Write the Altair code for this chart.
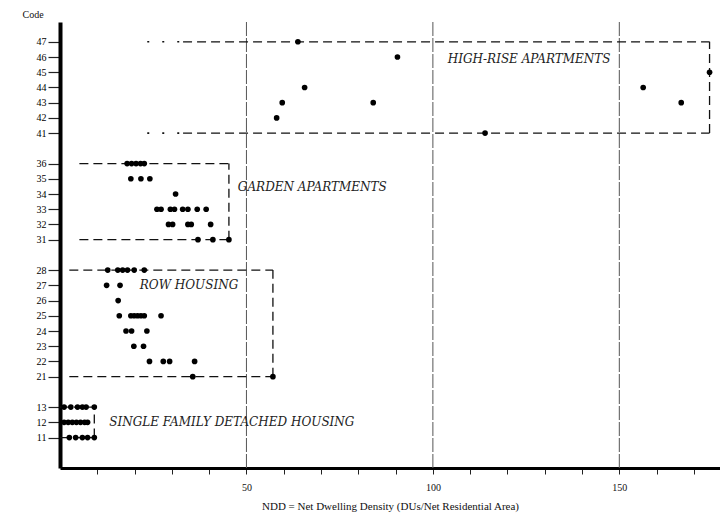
import altair as alt
import pandas as pd

# ---------------- data ----------------
# Points: (code, NDD values) per housing type
high_codes = [47, 46, 44, 43, 42, 43, 41, 44, 43, 45]
high_ndd = [63.8, 90.5, 65.6, 59.6, 58.1, 84.0, 114.0, 156.4, 166.6, 174.2]

garden_rows = {
    36: [18.0, 19.2, 20.4, 21.6, 22.6],
    35: [19.0, 21.7, 24.1],
    34: [31.0],
    33: [26.0, 27.1, 29.6, 30.7, 32.9, 34.3, 36.8, 39.2],
    32: [29.1, 30.2, 34.3, 35.2, 40.4],
    31: [37.0, 41.0, 45.3],
}
row_rows = {
    28: [12.8, 15.5, 16.8, 18.1, 19.9, 22.6],
    27: [12.5, 16.1],
    26: [15.6],
    25: [15.9, 19.0, 19.9, 20.8, 21.7, 22.6, 27.1],
    24: [17.7, 19.2, 23.3],
    23: [19.8, 22.4],
    22: [24.0, 27.7, 29.4, 36.1],
    21: [35.6, 57.1],
}
single_rows = {
    13: [1.1, 2.9, 4.7, 6.0, 7.0, 9.2],
    12: [1.1, 2.2, 3.3, 4.4, 5.5, 6.6, 7.4],
    11: [2.5, 4.2, 6.0, 7.4, 9.2],
}

# Group boxes: top code, bottom code, left NDD, right NDD
box_names = ["high", "garden", "row", "single"]
box_top = [47, 36, 28, 13]
box_bottom = [41, 31, 21, 11]
box_left = [33.0, 5.2, 2.5, 0.0]
box_right = [174.2, 45.3, 57.1, 9.2]
# dotted lead-in of the high-rise box lines
lead_left = 23.4
lead_right = 33.0

# group labels
label_text = ["HIGH-RISE APARTMENTS", "GARDEN APARTMENTS", "ROW HOUSING",
              "SINGLE FAMILY DETACHED HOUSING"]
label_ndd = [104.0, 47.7, 21.4, 13.2]
label_code_pos = [26.85, 18.46, 12.0, 3.0]

grid_x = [50, 100, 150]
code_ticks = [11, 12, 13, 21, 22, 23, 24, 25, 26, 27, 28,
              31, 32, 33, 34, 35, 36, 41, 42, 43, 44, 45, 46, 47]
x_ticks = list(range(10, 180, 10))

X_MAX = 177
Y_MAX = 29.3


def code_pos(c):
    if c < 20:
        return c - 9
    if c < 30:
        return c - 15
    if c < 40:
        return c - 16
    return c - 19


# ---------------- tables ----------------
pts = []
for c, v in zip(high_codes, high_ndd):
    pts.append({"ndd": v, "pos": code_pos(c)})
for rows in (garden_rows, row_rows, single_rows):
    for c, vals in rows.items():
        for v in vals:
            pts.append({"ndd": v, "pos": code_pos(c)})
pts = pd.DataFrame(pts)

segs = []
for n, t, b, l, r in zip(box_names, box_top, box_bottom, box_left, box_right):
    segs.append({"ndd": l, "ndd2": r, "pos": code_pos(t), "pos2": code_pos(t)})
    segs.append({"ndd": l, "ndd2": r, "pos": code_pos(b), "pos2": code_pos(b)})
    segs.append({"ndd": r, "ndd2": r, "pos": code_pos(b), "pos2": code_pos(t)})
segs = pd.DataFrame(segs)

leads = pd.DataFrame([
    {"ndd": lead_left, "ndd2": lead_right, "pos": code_pos(47), "pos2": code_pos(47)},
    {"ndd": lead_left, "ndd2": lead_right, "pos": code_pos(41), "pos2": code_pos(41)},
])

grid = pd.DataFrame({"ndd": grid_x, "pos": [0] * 3, "pos2": [Y_MAX] * 3})
labels = pd.DataFrame({"text": label_text, "ndd": label_ndd, "pos": label_code_pos})

SERIF = "Liberation Serif"

x_axis = alt.Axis(
    values=x_ticks,
    labelExpr="datum.value % 50 == 0 ? datum.label : ''",
    title="NDD = Net Dwelling Density (DUs/Net Residential Area)",
    titleFont=SERIF, titleFontSize=11, titleFontWeight="normal", titleColor="#111",
    titlePadding=8,
    labelFont=SERIF, labelFontSize=10, labelColor="#111", labelPadding=8,
    domainColor="#000", domainWidth=3, tickColor="#222", tickSize=6, tickWidth=1,
    grid=False,
)
y_axis = alt.Axis(
    values=[code_pos(c) for c in code_ticks],
    labelExpr=("datum.value < 5 ? datum.value + 9 : datum.value < 14 ? datum.value + 15 : "
               "datum.value < 21 ? datum.value + 16 : datum.value + 19"),
    title="Code", titleAngle=0, titleAlign="left", titleBaseline="middle",
    titleX=-38, titleY=-8, titleFont=SERIF, titleFontSize=10,
    titleFontWeight="normal", titleColor="#111",
    labelFont=SERIF, labelFontSize=10, labelColor="#000", labelPadding=2,
    domainColor="#000", domainWidth=4, tickColor="#222", tickSize=12, tickWidth=1.2,
    grid=False,
)
xs = alt.Scale(domain=[0, X_MAX], nice=False, zero=False)
ys = alt.Scale(domain=[0, Y_MAX], nice=False, zero=False)


def X(f="ndd"):
    return alt.X(f"{f}:Q", scale=xs, axis=x_axis)


def Y(f="pos"):
    return alt.Y(f"{f}:Q", scale=ys, axis=y_axis)


grid_layer = alt.Chart(grid).mark_rule(color="#555", strokeWidth=1, strokeDash=[14, 2]).encode(
    x=X(), y=Y(), y2="pos2:Q")

seg_layer = alt.Chart(segs).mark_rule(color="#111", strokeWidth=1.3, strokeDash=[9, 5]).encode(
    x=X(), x2="ndd2:Q", y=Y(), y2="pos2:Q")

lead_layer = alt.Chart(leads).mark_rule(color="#111", strokeWidth=1.6, strokeDash=[2, 13]).encode(
    x=X(), x2="ndd2:Q", y=Y(), y2="pos2:Q")

pt_layer = alt.Chart(pts).mark_circle(color="#000", size=32, opacity=1).encode(x=X(), y=Y())

txt_layer = alt.Chart(labels).mark_text(
    align="left", baseline="middle", font="DejaVu Serif", fontSize=12, fontStyle="italic",
    color="#222").encode(x=X(), y=Y(), text="text:N")

chart = alt.layer(grid_layer, seg_layer, lead_layer, pt_layer, txt_layer).properties(
    width=660, height=446,
    padding={"left": 52, "top": 14, "right": 0, "bottom": 50},
    autosize="none",
    background="white",
).configure_view(stroke=None)

chart.save("out.html", embed_options={"renderer": "svg", "actions": False})
